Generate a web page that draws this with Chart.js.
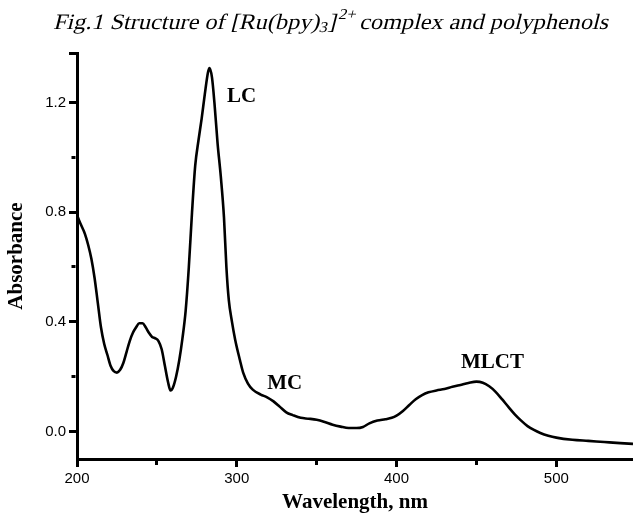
<!DOCTYPE html>
<html>
<head>
<meta charset="utf-8">
<script src="https://cdn.jsdelivr.net/npm/chart.js@4"></script>
<style>
  body { margin: 0; background: #fff; }
  #wrap { position: relative; width: 633px; height: 515px; }
  #title {
    position: absolute; left: 16px; top: 11px; width: 633px;
    text-align: center; line-height: 22px; white-space: nowrap;
    font-family: "Liberation Serif", "Times New Roman", serif; font-style: normal; font-size: 22px; color: #000;
  }
  #title span { display: inline-block; transform-origin: center; }
  #title sub, #title sup { font-size: 15px; line-height: 0; position: relative; vertical-align: baseline; }
  #title sub { top: 3px; }
  #title sup { top: -10px; }
</style>
</head>
<body>
<div id="wrap">
  <canvas id="spectrum" width="633" height="515"></canvas>
  <div id="title"><span>Fig.1 Structure of [Ru(bpy)<sub>3</sub>]<sup>2+</sup> complex and polyphenols</span></div>
</div>
<script>
const wavelengths = [200, 202, 205, 207, 209, 211, 213, 215, 217, 219, 221, 223, 225, 227, 229, 231, 233, 235, 237, 239,
  241, 243, 245, 247, 249, 251, 253, 255, 257, 258.5, 260, 262, 264, 266, 268, 270, 272, 274, 276, 278,
  280, 282, 283, 284.5, 286, 288, 290, 292, 293.5, 295, 297, 299, 302, 304, 307, 310, 315, 319, 323, 327,
  331, 335, 340, 345, 350, 355, 360, 365, 370, 375, 379, 383, 388, 393, 397, 400, 404, 408, 412, 416,
  420, 425, 430, 435, 440, 445, 450, 454, 458, 462, 466, 470, 474, 478, 482, 486, 490, 495, 500, 510,
  520, 530, 540, 548];
const absorbance = [0.79, 0.76, 0.72, 0.68, 0.63, 0.56, 0.47, 0.38, 0.32, 0.28, 0.24, 0.22, 0.215, 0.225, 0.25, 0.29, 0.33, 0.36, 0.38, 0.395,
  0.395, 0.38, 0.36, 0.345, 0.34, 0.33, 0.3, 0.24, 0.18, 0.15, 0.16, 0.2, 0.26, 0.34, 0.44, 0.6, 0.8, 0.97, 1.06, 1.14,
  1.23, 1.31, 1.325, 1.29, 1.2, 1.05, 0.93, 0.78, 0.6, 0.48, 0.4, 0.335, 0.26, 0.215, 0.175, 0.153, 0.135, 0.125, 0.11, 0.09,
  0.07, 0.06, 0.05, 0.047, 0.043, 0.035, 0.025, 0.018, 0.013, 0.013, 0.017, 0.03, 0.04, 0.045, 0.05, 0.058, 0.075, 0.097, 0.118, 0.133,
  0.143, 0.15, 0.155, 0.163, 0.17, 0.177, 0.182, 0.178, 0.165, 0.145, 0.118, 0.09, 0.063, 0.04, 0.02, 0.006, -0.005, -0.015, -0.022, -0.03,
  -0.034, -0.038, -0.042, -0.045];

// all tick positions (major + minor) and the labelled ones
const xTicks = [200, 250, 300, 350, 400, 450, 500];
const xMajorTicks = [200, 300, 400, 500];
const yTicks = [0.0, 0.2, 0.4, 0.6, 0.8, 1.0, 1.2, 1.38];
const yMajorTicks = [0.0, 0.4, 0.8, 1.2];

const bandLabels = ['LC', 'MC', 'MLCT'];
const bandLabelX = [303, 330, 460];
const bandLabelY = [1.22, 0.175, 0.252];

const near = (a, b) => Math.abs(a - b) < 1e-6;
const isMajor = (list, v) => list.some(m => near(m, v));

// band names drawn at data positions
const bandLabelPlugin = {
    id: 'bandLabels',
    afterDatasetsDraw(chart) {
        const ctx = chart.ctx;
        const xs = chart.scales.x, ys = chart.scales.y;
        ctx.save();
        ctx.font = 'bold 21px "Liberation Serif"';
        ctx.fillStyle = '#000';
        ctx.textAlign = 'center';
        ctx.textBaseline = 'middle';
        bandLabels.forEach((t, i) => {
            ctx.fillText(t, xs.getPixelForValue(bandLabelX[i]), ys.getPixelForValue(bandLabelY[i]));
        });
        ctx.restore();
    }
};

const chartConfig = {
    type: 'line',
    data: {
        datasets: [{
            data: wavelengths.map((w, i) => ({x: w, y: absorbance[i]})),
            borderColor: '#000',
            borderWidth: 2.6,
            pointRadius: 0,
            cubicInterpolationMode: 'monotone',
            fill: false
        }]
    },
    options: {
        responsive: false,
        animation: false,
        layout: {padding: {top: 53, right: 0, bottom: 0, left: 0}},
        plugins: {
            legend: {display: false},
            tooltip: {enabled: false}
        },
        scales: {
            x: {
                type: 'linear',
                min: 200,
                max: 548,
                afterBuildTicks: function(scale) { scale.ticks = xTicks.map(v => ({value: v})); },
                afterFit: function(scale) { scale.height = 56; },
                border: {display: true, color: '#000', width: 3},
                grid: {
                    display: true,
                    drawOnChartArea: false,
                    drawTicks: true,
                    tickLength: 8,
                    tickColor: '#000',
                    tickWidth: 3,
                    tickBorderDash: function(c) {
                        return (c.tick && isMajor(xMajorTicks, c.tick.value)) ? [] : [4, 20];
                    }
                },
                ticks: {
                    autoSkip: false,
                    maxRotation: 0,
                    padding: 3,
                    color: '#000',
                    font: {family: 'Liberation Sans', size: 15},
                    callback: function(value) {
                        return isMajor(xMajorTicks, value) ? String(value) : '';
                    }
                },
                title: {
                    display: true,
                    text: 'Wavelength, nm',
                    color: '#000',
                    padding: {top: 0, bottom: 0},
                    font: {family: 'Liberation Serif', size: 21, weight: 'bold', lineHeight: 1.2}
                }
            },
            y: {
                min: -0.1,
                max: 1.38,
                afterBuildTicks: function(scale) { scale.ticks = yTicks.map(v => ({value: v})); },
                afterFit: function(scale) { scale.width = 77; },
                border: {display: true, color: '#000', width: 3},
                grid: {
                    display: true,
                    drawOnChartArea: false,
                    drawTicks: true,
                    tickLength: 8,
                    tickColor: '#000',
                    tickWidth: 3,
                    tickBorderDash: function(c) {
                        if (!c.tick) return [];
                        const v = c.tick.value;
                        if (near(v, 1.38) || isMajor(yMajorTicks, v)) return [];
                        return [0, 2.5, 4, 20];
                    }
                },
                ticks: {
                    autoSkip: false,
                    padding: 3,
                    color: '#000',
                    font: {family: 'Liberation Sans', size: 15},
                    callback: function(value) {
                        return isMajor(yMajorTicks, value) ? value.toFixed(1) : '';
                    }
                },
                title: {
                    display: true,
                    text: 'Absorbance',
                    color: '#000',
                    padding: {top: 4, bottom: 0},
                    font: {family: 'Liberation Serif', size: 21, weight: 'bold', lineHeight: 1.2}
                }
            }
        }
    },
    plugins: [bandLabelPlugin]
};

let chartID = document.getElementById('spectrum');
let chart   = new Chart(chartID, chartConfig);

// stretch and slant the caption to the shape it has in the figure
const cap = document.querySelector('#title span');
cap.style.transform = 'scaleX(' + (555 / cap.getBoundingClientRect().width) + ') skewX(-13deg)';
</script>
</body>
</html>
